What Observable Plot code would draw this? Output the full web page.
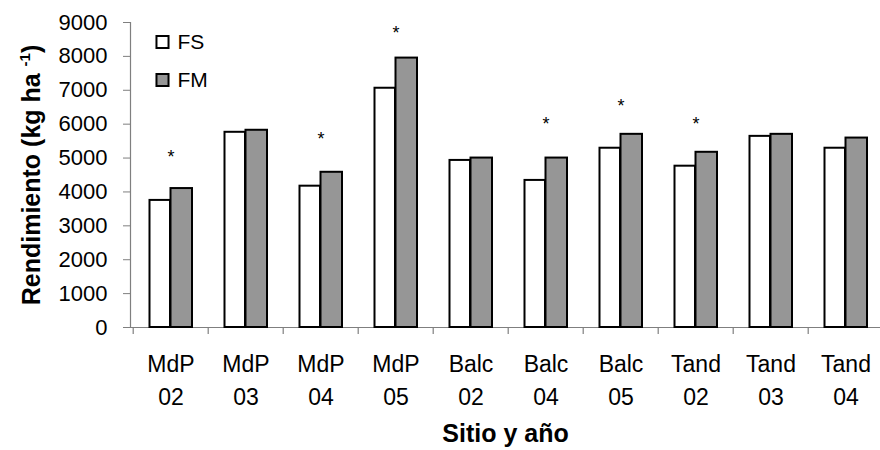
<!DOCTYPE html>
<html><head><meta charset="utf-8">
<script src="https://cdn.jsdelivr.net/npm/d3@7"></script>
<script src="https://cdn.jsdelivr.net/npm/@observablehq/plot@0.6"></script>
<style>
body{margin:0;background:#fff}
svg{font-family:"Liberation Sans",Arial,sans-serif}
</style>
</head><body><div id="chart"></div>
<script>
const sites = ["MdP","MdP","MdP","MdP","Balc","Balc","Balc","Tand","Tand","Tand"];
const years = ["02","03","04","05","02","04","05","02","03","04"];
const fsValues = [3750,5760,4170,7060,4930,4340,5290,4760,5640,5290];
const fmValues = [4100,5820,4580,7950,5000,5000,5700,5170,5700,5590];
const starY = [5130,null,5660,8790,null,6110,6650,6110,null,null];
const yTicks = [0,1000,2000,3000,4000,5000,6000,7000,8000,9000];
const seriesNames = ["FS","FM"];
const seriesFill = ["white","#969696"];

const cats = sites.map((s,i)=>s+"\n"+years[i]);
const rows = cats.map((c,i)=>({cat:c, fs:fsValues[i], fm:fmValues[i], star:starY[i]}));
const stars = rows.filter(d=>d.star!=null);

const axisGray = "#7f7f7f";

const plot = Plot.plot({
  width:880, height:450,
  marginLeft:130, marginRight:0, marginTop:22, marginBottom:123,
  style:{fontFamily:'"Liberation Sans",Arial,sans-serif', background:"white", color:"black"},
  x:{type:"band", domain:cats, range:[130,886], padding:0},
  y:{domain:[0,9000]},
  marks:[
    Plot.axisY({ticks:yTicks, tickSize:7, tickPadding:16, fontSize:22, stroke:axisGray, fill:"black", tickFormat:d=>String(d), label:null}),
    Plot.axisX({tickSize:0, tickPadding:22, fontSize:23, lineHeight:1.4, fill:"black", label:null}),
    Plot.frame({anchor:"left", stroke:axisGray, strokeWidth:1.2}),
    Plot.ruleY([0], {stroke:axisGray, strokeWidth:1.2}),
    Plot.ruleX(cats, {x:d=>d, dx:-37.8, y1:0, y2:0, insetBottom:-7, stroke:axisGray, strokeWidth:1.2}),
    Plot.barY(rows, {x:"cat", y:"fs", fill:seriesFill[0], stroke:"black", strokeWidth:2, insetLeft:16.5, insetRight:38}),
    Plot.barY(rows, {x:"cat", y:"fm", fill:seriesFill[1], stroke:"black", strokeWidth:2, insetLeft:37.5, insetRight:16}),
    Plot.text(stars, {x:"cat", y:"star", text:()=>"*", fontSize:18, dy:4, fill:"black"}),
    ...seriesNames.flatMap((n,i)=>[
      Plot.dot([n], {frameAnchor:"top-left", dx:32, dy:19.5+38*i, symbol:"square", r:6.8, fill:seriesFill[i], stroke:"black", strokeWidth:2}),
      Plot.text([n], {frameAnchor:"top-left", dx:47, dy:19.5+38*i, text:d=>d, textAnchor:"start", lineAnchor:"middle", fontSize:21, fill:"black"})
    ]),
    Plot.text(["Sitio y año"], {frameAnchor:"bottom", dy:106, text:d=>d, textAnchor:"middle", lineAnchor:"middle", fontSize:25, fontWeight:"bold", fill:"black"}),
    Plot.text(["Rendimiento"], {frameAnchor:"left", dx:-99, rotate:-90, text:d=>d, textAnchor:"middle", lineAnchor:"middle", fontSize:25, fontWeight:"bold", fill:"black", className:"ylab"})
  ]
});

const t = d3.select(plot).select(".ylab text");
t.text("Rendimiento (kg ha ");
t.append("tspan").attr("dy", -10).attr("font-size", 15).text("-1");
t.append("tspan").attr("dy", 10).text(")");
t.attr("text-anchor", "middle");

document.getElementById("chart").appendChild(plot);
</script>
</body></html>
